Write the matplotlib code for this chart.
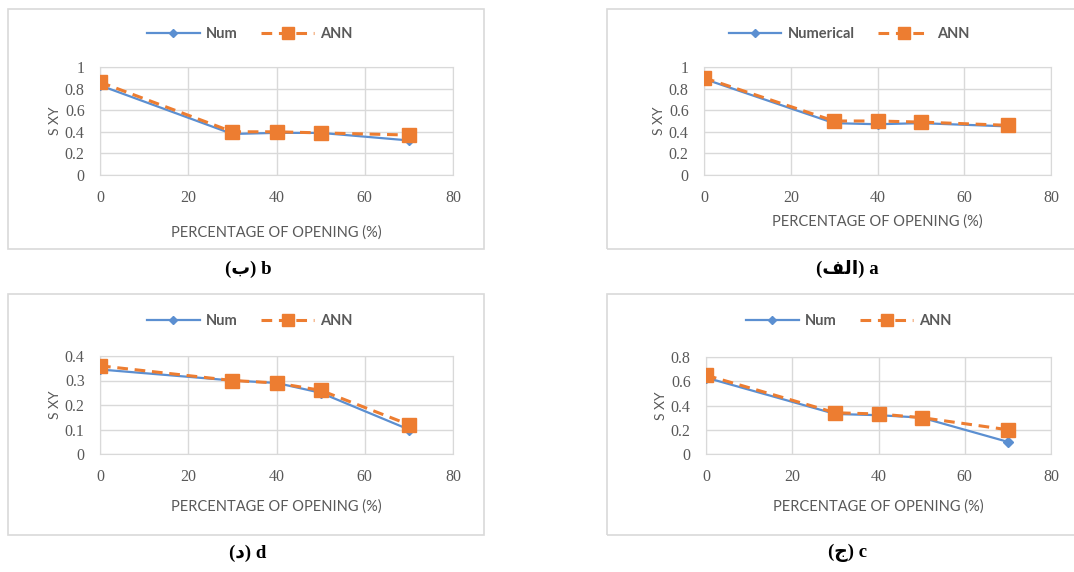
import matplotlib as mpl
import matplotlib.pyplot as plt
from matplotlib.patches import Rectangle
import numpy as np

# data
opening = [0, 30, 40, 50, 70]

num_a = [0.89, 0.48, 0.47, 0.48, 0.45]
ann_a = [0.90, 0.50, 0.50, 0.49, 0.46]

num_b = [0.83, 0.38, 0.39, 0.39, 0.32]
ann_b = [0.86, 0.40, 0.40, 0.39, 0.37]

num_c = [0.63, 0.33, 0.32, 0.30, 0.10]
ann_c = [0.65, 0.34, 0.33, 0.30, 0.20]

num_d = [0.345, 0.30, 0.29, 0.25, 0.10]
ann_d = [0.36, 0.30, 0.29, 0.26, 0.12]

xticks = [0, 20, 40, 60, 80]
yticks_ab = [0, 0.2, 0.4, 0.6, 0.8, 1]
yticks_c = [0, 0.2, 0.4, 0.6, 0.8]
yticks_d = [0, 0.1, 0.2, 0.3, 0.4]

# captions, arabic in presentation forms (visual order) so it shows joined
cap_a = "(\uFED2\uFEDF\uFE8D) a"
cap_b = "(\u0628) b"
cap_c = "(\u062C) c"
cap_d = "(\u062F) d"

plt.rcParams['font.family'] = ['Liberation Serif', 'DejaVu Sans']

W, H = 1074, 572
BLUE = '#5B8FD1'
ORANGE = '#ED7D31'
GRID = '#D9D9D9'
TXT = '#595959'

fig = plt.figure(figsize=(W/100, H/100), dpi=100, facecolor='w')

def px_axes(l, r, t, b):
    return fig.add_axes([l/W, 1-b/H, (r-l)/W, (b-t)/H])

def box(l, r, t, b):
    fig.patches.append(Rectangle((l/W, 1-b/H), (r-l)/W, (b-t)/H, transform=fig.transFigure,
                                 fill=False, edgecolor=GRID, linewidth=1.2))

def panel(ax, num, ann, yt, numlabel, legx, legy, cap, capx, capy, xlabpad):
    ax.plot(opening, num, color=BLUE, linewidth=1.6, marker='D', markersize=5,
            label=numlabel, zorder=3)
    ax.plot(opening, ann, color=ORANGE, linewidth=2.2, linestyle=(0, (3.5, 2.2)), marker='s',
            markersize=10, label='ANN', zorder=4)
    ax.set_xlim(0, 80)
    ax.set_ylim(yt[0], yt[-1])
    ax.set_xticks(xticks)
    ax.set_yticks(yt)
    ax.set_yticklabels([('%g' % v) for v in yt])
    ax.grid(True, color=GRID, linewidth=1)
    ax.set_axisbelow(True)
    for s in ax.spines.values():
        s.set_color(GRID)
    ax.tick_params(length=0, labelcolor=TXT, labelsize=11.5)
    ax.tick_params(axis='y', pad=11)
    ax.tick_params(axis='x', pad=11)
    ax.set_xlabel('PERCENTAGE OF OPENING (%)', color=TXT, fontsize=10.5, family='Lato',
                  labelpad=xlabpad)
    ax.set_ylabel('S XY', color=TXT, fontsize=10, family='Lato', labelpad=3)
    fig.legend(*ax.get_legend_handles_labels(), loc='center', ncol=2,
               bbox_to_anchor=(legx/W, 1-legy/H), frameon=False, handlelength=3.6,
               columnspacing=1.6, handletextpad=0.45, markerscale=0.85,
               prop={'family': 'Lato', 'size': 10.5, 'weight': 'bold'})
    for t in fig.legends[-1].get_texts():
        t.set_color(TXT)
    fig.text(capx/W, 1-capy/H, cap, ha='center', va='center',
             fontsize=13.5, fontweight='bold')

box(8, 484, 9, 249)
box(607, 1080, 9, 249)
box(8, 484, 294, 535)
box(607, 1080, 294, 535)

ax_b = px_axes(100, 453, 67, 175)
panel(ax_b, num_b, ann_b, yticks_ab, 'Num', 250, 34, cap_b, 248, 269, 14)
ax_a = px_axes(704, 1051, 67, 175)
panel(ax_a, num_a, ann_a, yticks_ab, 'Numerical', 849, 34, cap_a, 847, 269, 6)
ax_d = px_axes(100, 453, 356, 454)
panel(ax_d, num_d, ann_d, yticks_d, 'Num', 250, 321, cap_d, 248, 553, 10)
ax_c = px_axes(706, 1051, 357, 454)
panel(ax_c, num_c, ann_c, yticks_c, 'Num', 849, 321, cap_c, 847, 553, 10)

plt.savefig('out.png', dpi=100, facecolor='w')
